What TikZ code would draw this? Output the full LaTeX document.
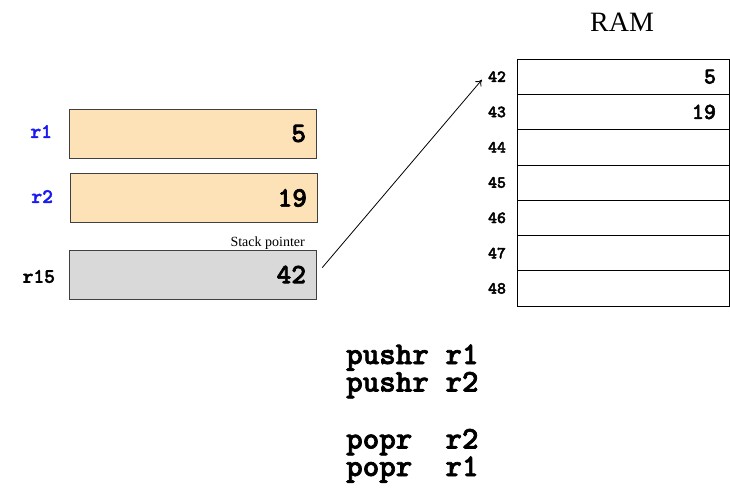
\documentclass[tikz,border=0pt]{standalone}
\usepackage{fontspec}
\setmainfont{Liberation Serif}
\newfontfamily\typewriter{lmmonolt10-bold}[Extension=.otf, FakeBold=2.2]
\usetikzlibrary{arrows.meta}
\definecolor{peach}{HTML}{FDE2B7}
\definecolor{regblue}{HTML}{1A1AF0}
\definecolor{spgray}{HTML}{D9D9D9}
\newcommand\monofont[1]{\typewriter\fontsize{#1}{#1}\selectfont}
\tikzset{
  regbox/.style={draw=black!75, line width=0.8pt, minimum width=247, minimum height=49,
    text width=227, inner xsep=10, align=right, font=\monofont{28}},
  reglabel/.style={anchor=east, font=\monofont{20.5}},
  ramcell/.style={draw=black, line width=0.8pt, minimum width=212, minimum height=35.3,
    text width=186, inner xsep=13, align=right, inner ysep=0, font=\monofont{23}},
  addr/.style={font=\monofont{17}},
  code/.style={anchor=base west, inner sep=0, font=\monofont{31.5}},
}
\begin{document}
\begin{tikzpicture}[x=1pt, y=-1pt]
\useasboundingbox (0,0) rectangle (730,491);

% registers
\node[regbox, fill=peach] (r1) at (192.5,133.5) {5};
\node[regbox, fill=peach] (r2) at (193.5,198) {19};
\node[regbox, fill=spgray] (r15) at (192.5,274.5) {42};
\node[reglabel, text=regblue] (l1) at (55.5,131.5) {r1};
\node[reglabel, text=regblue] (l2) at (56.5,196.5) {r2};
\node[reglabel] (l15) at (58.5,276.5) {r15};
\node[anchor=base east, inner sep=0, font=\fontsize{14}{14}\selectfont] (sp) at (305,246) {Stack pointer};

% memory
\node[font=\fontsize{28}{28}\selectfont] (ram) at (622,22) {RAM};
\foreach \a/\v [count=\i from 0] in {42/5, 43/19, 44/, 45/, 46/, 47/, 48/} {
  \node[ramcell] (m\a) at (623, 59+35.3*\i+17.65) {\v};
  \node[addr] (a\a) at (497, 59+35.3*\i+17.65) {\a};
}

% stack pointer reference
\draw[-{To[length=6pt,width=8pt]}, line width=0.8pt, shorten <=9pt, shorten >=4pt] (r15.east) -- (a42.west);

% program listing
\node[code] (prog) at (346,364) {\vtop{\baselineskip=27.5pt
  \hbox{pushr r1}\hbox{pushr r2}\vskip29.5pt
  \hbox{popr\ \ r2}\hbox{popr\ \ r1}}};
\end{tikzpicture}
\end{document}
